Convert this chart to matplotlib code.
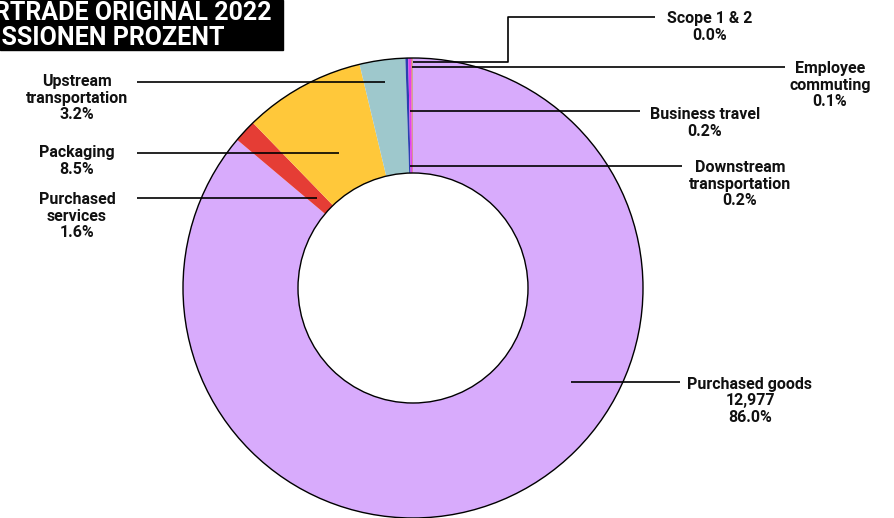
import numpy as np
import matplotlib.pyplot as plt
from matplotlib.patches import Circle, Rectangle

# emissions shares (percent), clockwise from 12 o'clock
categories = ["Purchased goods", "Purchased services", "Packaging", "Upstream transportation",
              "Downstream transportation", "Business travel", "Employee commuting", "Scope 1 & 2"]
shares = [86.0, 1.6, 8.5, 3.2, 0.2, 0.2, 0.1, 0.03]
goods_abs = 12977
colors = ["#d8abfc", "#e53d35", "#ffc83a", "#9ec8cc", "#2b3fb0", "#e040f0", "#f0607a", "#7fbf7f"]

label_text = {
    "Purchased goods": "Purchased goods\n{:,}\n{:.1f}%".format(goods_abs, shares[0]),
    "Purchased services": "Purchased\nservices\n{:.1f}%".format(shares[1]),
    "Packaging": "Packaging\n{:.1f}%".format(shares[2]),
    "Upstream transportation": "Upstream\ntransportation\n{:.1f}%".format(shares[3]),
    "Downstream transportation": "Downstream\ntransportation\n{:.1f}%".format(shares[4]),
    "Business travel": "Business travel\n{:.1f}%".format(shares[5]),
    "Employee commuting": "Employee\ncommuting\n{:.1f}%".format(shares[6]),
    "Scope 1 & 2": "Scope 1 & 2\n{:.1f}%".format(shares[7]),
}

# layout in pixels (from top-left): text centre, leader y, leader end x, optional elbow
W, H = 895, 518
cx, cy, R = 413, 288, 230
layout = {
    "Purchased goods": dict(tx=750, ty=401, ly=382, lx=680),
    "Purchased services": dict(tx=77, ty=216, ly=198, lx=137),
    "Packaging": dict(tx=77, ty=161, ly=153, lx=137),
    "Upstream transportation": dict(tx=77, ty=98, ly=82, lx=137),
    "Downstream transportation": dict(tx=740, ty=184, ly=166, lx=682),
    "Business travel": dict(tx=705, ty=123, ly=111, lx=640),
    "Employee commuting": dict(tx=830, ty=85, ly=67, lx=785),
    "Scope 1 & 2": dict(tx=710, ty=27, ly=62, lx=655, elbow=(508, 17)),
}

plt.rcParams['font.family'] = ['Roboto', 'DejaVu Sans']

fig = plt.figure(figsize=(W / 100, H / 100), dpi=100)
ax = fig.add_axes([0, 0, 1, 1])

wedges, _ = ax.pie(shares, colors=colors, startangle=90, counterclock=False,
                   center=(cx, H - cy), radius=R, frame=True,
                   wedgeprops=dict(width=R / 2, edgecolor="none", linewidth=0))
ax.add_patch(Circle((cx, H - cy), R, fill=False, ec="black", lw=1.0, zorder=3))
ax.add_patch(Circle((cx, H - cy), R / 2, fill=False, ec="black", lw=1.0, zorder=3))
ax.set_xlim(0, W)
ax.set_ylim(0, H)
ax.set_aspect("equal")
ax.axis("off")

for name, w in zip(categories, wedges):
    lay = layout[name]
    th = np.deg2rad((w.theta1 + w.theta2) / 2)
    dy = cy - lay["ly"]
    r_hit = abs(dy / np.sin(th))
    if r_hit < R / 2:
        # the mid-angle ray meets the leader inside the hole: stop in the ring instead
        x0 = cx + np.sign(np.cos(th)) * np.sqrt((0.8 * R) ** 2 - dy ** 2)
    else:
        x0 = cx + dy / np.tan(th)
    xs = [x0]
    ys = [lay["ly"]]
    if "elbow" in lay:
        ex, ey = lay["elbow"]
        xs += [ex, ex]
        ys += [lay["ly"], ey]
        xs.append(lay["lx"])
        ys.append(ey)
    else:
        xs.append(lay["lx"])
        ys.append(lay["ly"])
    ax.plot(xs, [H - y for y in ys], color="black", lw=1.2, zorder=4, solid_capstyle="butt")
    ax.text(lay["tx"], H - lay["ty"], label_text[name], ha="center", va="center",
            fontsize=11.5, fontweight="bold", linespacing=1.15, color="#111111")

# title box, cut off at the left edge
ax.add_patch(Rectangle((0, H - 50), 283, 50, color="black", zorder=5, clip_on=False))
ax.text(-44, H - 13, "FAIRTRADE ORIGINAL 2022", ha="left", va="center", color="white",
        fontsize=18, fontweight="bold", zorder=6)
ax.text(-42, H - 38, "EMISSIONEN PROZENT", ha="left", va="center", color="white",
        fontsize=18, fontweight="bold", zorder=6)

fig.savefig("out.png", dpi=100)
